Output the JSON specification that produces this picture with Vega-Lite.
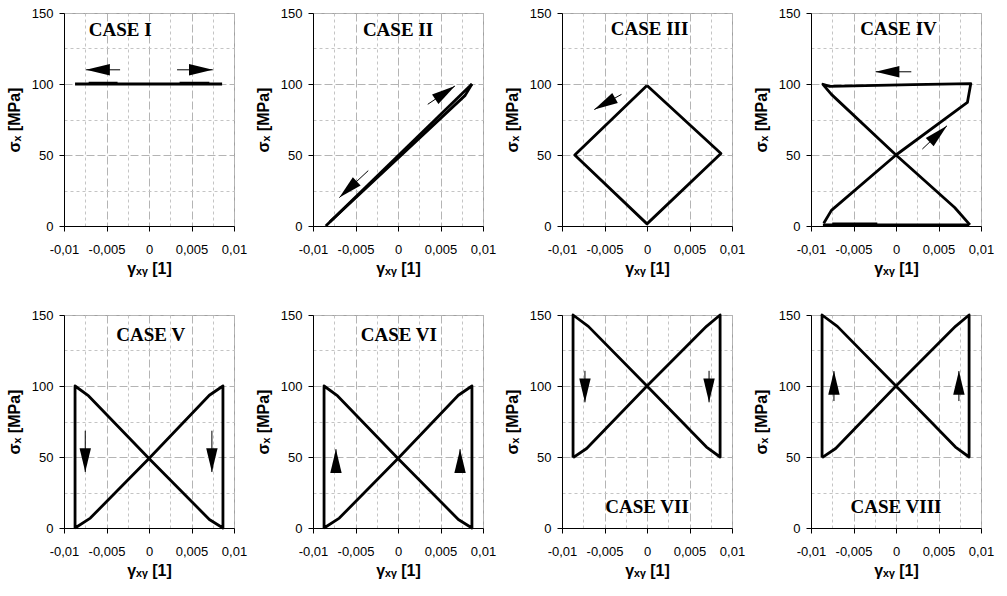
{
  "$schema": "https://vega.github.io/schema/vega-lite/v6.json",
  "background": "#ffffff",
  "padding": {"left": 5, "top": 6, "right": 5, "bottom": 5},
  "data": {"values": [
    {"case": "I", "kind": "p", "seg": "I1", "i": 0, "x": -0.0087, "y": 100},
    {"case": "I", "kind": "p", "seg": "I1", "i": 1, "x": 0.0086, "y": 100},
    {"case": "I", "kind": "p", "seg": "I2", "i": 0, "x": -0.0071, "y": 100.6},
    {"case": "I", "kind": "p", "seg": "I2", "i": 1, "x": -0.0037, "y": 100.6},
    {"case": "I", "kind": "p", "seg": "I3", "i": 0, "x": 0.0036, "y": 100.6},
    {"case": "I", "kind": "p", "seg": "I3", "i": 1, "x": 0.0071, "y": 100.6},

    {"case": "II", "kind": "p", "seg": "II1", "i": 0, "x": -0.0085, "y": 0},
    {"case": "II", "kind": "p", "seg": "II1", "i": 1, "x": 0.0087, "y": 100},
    {"case": "II", "kind": "p", "seg": "II2", "i": 0, "x": 0.0087, "y": 100},
    {"case": "II", "kind": "p", "seg": "II2", "i": 1, "x": 0.0079, "y": 92},
    {"case": "II", "kind": "p", "seg": "II2", "i": 2, "x": -0.0080, "y": 3},

    {"case": "III", "kind": "p", "seg": "III1", "i": 0, "x": 0, "y": 99},
    {"case": "III", "kind": "p", "seg": "III1", "i": 1, "x": -0.0085, "y": 50},
    {"case": "III", "kind": "p", "seg": "III1", "i": 2, "x": 0, "y": 1.5},
    {"case": "III", "kind": "p", "seg": "III1", "i": 3, "x": 0.0087, "y": 51},
    {"case": "III", "kind": "p", "seg": "III1", "i": 4, "x": 0, "y": 99},

    {"case": "IV", "kind": "p", "seg": "IV1", "i": 0, "x": -0.0086, "y": 0.8},
    {"case": "IV", "kind": "p", "seg": "IV1", "i": 1, "x": 0.0086, "y": 0.8},
    {"case": "IV", "kind": "p", "seg": "IV2", "i": 0, "x": -0.0075, "y": 1.5},
    {"case": "IV", "kind": "p", "seg": "IV2", "i": 1, "x": -0.0022, "y": 1.5},
    {"case": "IV", "kind": "p", "seg": "IV3", "i": 0, "x": -0.0085, "y": 2},
    {"case": "IV", "kind": "p", "seg": "IV3", "i": 1, "x": -0.0076, "y": 11},
    {"case": "IV", "kind": "p", "seg": "IV3", "i": 2, "x": 0, "y": 50},
    {"case": "IV", "kind": "p", "seg": "IV3", "i": 3, "x": 0.0084, "y": 87},
    {"case": "IV", "kind": "p", "seg": "IV3", "i": 4, "x": 0.0088, "y": 100.3},
    {"case": "IV", "kind": "p", "seg": "IV3", "i": 5, "x": 0.002, "y": 99.5},
    {"case": "IV", "kind": "p", "seg": "IV3", "i": 6, "x": -0.0078, "y": 98.3},
    {"case": "IV", "kind": "p", "seg": "IV3", "i": 7, "x": -0.0086, "y": 99.8},
    {"case": "IV", "kind": "p", "seg": "IV3", "i": 8, "x": -0.0076, "y": 92.7},
    {"case": "IV", "kind": "p", "seg": "IV3", "i": 9, "x": 0, "y": 50},
    {"case": "IV", "kind": "p", "seg": "IV3", "i": 10, "x": 0.0069, "y": 13},
    {"case": "IV", "kind": "p", "seg": "IV3", "i": 11, "x": 0.0087, "y": 0.8},

    {"case": "V", "kind": "p", "seg": "V1", "i": 0, "x": -0.0087, "y": 0},
    {"case": "V", "kind": "p", "seg": "V1", "i": 1, "x": -0.0087, "y": 100},
    {"case": "V", "kind": "p", "seg": "V1", "i": 2, "x": -0.0071, "y": 93},
    {"case": "V", "kind": "p", "seg": "V1", "i": 3, "x": 0, "y": 49},
    {"case": "V", "kind": "p", "seg": "V1", "i": 4, "x": 0.0071, "y": 6},
    {"case": "V", "kind": "p", "seg": "V1", "i": 5, "x": 0.0087, "y": 0},
    {"case": "V", "kind": "p", "seg": "V1", "i": 6, "x": 0.0087, "y": 100},
    {"case": "V", "kind": "p", "seg": "V1", "i": 7, "x": 0.0071, "y": 93.5},
    {"case": "V", "kind": "p", "seg": "V1", "i": 8, "x": 0, "y": 49},
    {"case": "V", "kind": "p", "seg": "V1", "i": 9, "x": -0.0069, "y": 7},
    {"case": "V", "kind": "p", "seg": "V1", "i": 10, "x": -0.0087, "y": 0},

    {"case": "VI", "kind": "p", "seg": "VI1", "i": 0, "x": -0.0087, "y": 0},
    {"case": "VI", "kind": "p", "seg": "VI1", "i": 1, "x": -0.0087, "y": 100},
    {"case": "VI", "kind": "p", "seg": "VI1", "i": 2, "x": -0.0071, "y": 93},
    {"case": "VI", "kind": "p", "seg": "VI1", "i": 3, "x": 0, "y": 49},
    {"case": "VI", "kind": "p", "seg": "VI1", "i": 4, "x": 0.0071, "y": 6},
    {"case": "VI", "kind": "p", "seg": "VI1", "i": 5, "x": 0.0087, "y": 0},
    {"case": "VI", "kind": "p", "seg": "VI1", "i": 6, "x": 0.0087, "y": 100},
    {"case": "VI", "kind": "p", "seg": "VI1", "i": 7, "x": 0.0071, "y": 93.5},
    {"case": "VI", "kind": "p", "seg": "VI1", "i": 8, "x": 0, "y": 49},
    {"case": "VI", "kind": "p", "seg": "VI1", "i": 9, "x": -0.0069, "y": 7},
    {"case": "VI", "kind": "p", "seg": "VI1", "i": 10, "x": -0.0087, "y": 0},

    {"case": "VII", "kind": "p", "seg": "VII1", "i": 0, "x": -0.0087, "y": 49.5},
    {"case": "VII", "kind": "p", "seg": "VII1", "i": 1, "x": -0.0087, "y": 150},
    {"case": "VII", "kind": "p", "seg": "VII1", "i": 2, "x": -0.0069, "y": 142},
    {"case": "VII", "kind": "p", "seg": "VII1", "i": 3, "x": 0, "y": 100},
    {"case": "VII", "kind": "p", "seg": "VII1", "i": 4, "x": 0.007, "y": 57},
    {"case": "VII", "kind": "p", "seg": "VII1", "i": 5, "x": 0.0086, "y": 50},
    {"case": "VII", "kind": "p", "seg": "VII1", "i": 6, "x": 0.0086, "y": 150},
    {"case": "VII", "kind": "p", "seg": "VII1", "i": 7, "x": 0.007, "y": 142},
    {"case": "VII", "kind": "p", "seg": "VII1", "i": 8, "x": 0, "y": 100},
    {"case": "VII", "kind": "p", "seg": "VII1", "i": 9, "x": -0.0071, "y": 56},
    {"case": "VII", "kind": "p", "seg": "VII1", "i": 10, "x": -0.0087, "y": 49.5},

    {"case": "VIII", "kind": "p", "seg": "VIII1", "i": 0, "x": -0.0087, "y": 49.5},
    {"case": "VIII", "kind": "p", "seg": "VIII1", "i": 1, "x": -0.0087, "y": 150},
    {"case": "VIII", "kind": "p", "seg": "VIII1", "i": 2, "x": -0.0069, "y": 142},
    {"case": "VIII", "kind": "p", "seg": "VIII1", "i": 3, "x": 0, "y": 100},
    {"case": "VIII", "kind": "p", "seg": "VIII1", "i": 4, "x": 0.007, "y": 57},
    {"case": "VIII", "kind": "p", "seg": "VIII1", "i": 5, "x": 0.0086, "y": 50},
    {"case": "VIII", "kind": "p", "seg": "VIII1", "i": 6, "x": 0.0086, "y": 150},
    {"case": "VIII", "kind": "p", "seg": "VIII1", "i": 7, "x": 0.007, "y": 142},
    {"case": "VIII", "kind": "p", "seg": "VIII1", "i": 8, "x": 0, "y": 100},
    {"case": "VIII", "kind": "p", "seg": "VIII1", "i": 9, "x": -0.0071, "y": 56},
    {"case": "VIII", "kind": "p", "seg": "VIII1", "i": 10, "x": -0.0087, "y": 49.5},

    {"case": "I", "kind": "a", "x": -0.0074, "y": 110, "x2": -0.0034, "y2": 110},
    {"case": "I", "kind": "a", "x": 0.0075, "y": 110, "x2": 0.0033, "y2": 110},
    {"case": "II", "kind": "a", "x": 0.0067, "y": 98.6, "x2": 0.0035, "y2": 85.7},
    {"case": "II", "kind": "a", "x": -0.0069, "y": 20, "x2": -0.0035, "y2": 39},
    {"case": "III", "kind": "a", "x": -0.0062, "y": 82, "x2": -0.0030, "y2": 92.7},
    {"case": "IV", "kind": "a", "x": -0.0024, "y": 108.6, "x2": 0.0018, "y2": 108.6},
    {"case": "IV", "kind": "a", "x": 0.0060, "y": 70.6, "x2": 0.0031, "y2": 54.2},
    {"case": "V", "kind": "a", "x": -0.0075, "y": 39.4, "x2": -0.0075, "y2": 68.5},
    {"case": "V", "kind": "a", "x": 0.0074, "y": 39.4, "x2": 0.0074, "y2": 68.5},
    {"case": "VI", "kind": "a", "x": -0.0073, "y": 55.5, "x2": -0.0073, "y2": 39.4},
    {"case": "VI", "kind": "a", "x": 0.0073, "y": 55.5, "x2": 0.0073, "y2": 39.4},
    {"case": "VII", "kind": "a", "x": -0.0073, "y": 88.5, "x2": -0.0073, "y2": 110.7},
    {"case": "VII", "kind": "a", "x": 0.0073, "y": 88.5, "x2": 0.0073, "y2": 110.7},
    {"case": "VIII", "kind": "a", "x": -0.0073, "y": 110.5, "x2": -0.0073, "y2": 89.4},
    {"case": "VIII", "kind": "a", "x": 0.0074, "y": 110.5, "x2": 0.0074, "y2": 89.4},

    {"case": "I", "kind": "t", "x": -0.0034, "y": 138, "label": "CASE I"},
    {"case": "II", "kind": "t", "x": 0, "y": 138, "label": "CASE II"},
    {"case": "III", "kind": "t", "x": 0.0003, "y": 138.5, "label": "CASE III"},
    {"case": "IV", "kind": "t", "x": 0.0003, "y": 139, "label": "CASE IV"},
    {"case": "V", "kind": "t", "x": 0.0002, "y": 136, "label": "CASE V"},
    {"case": "VI", "kind": "t", "x": 0.0001, "y": 136, "label": "CASE VI"},
    {"case": "VII", "kind": "t", "x": 0, "y": 15, "label": "CASE VII"},
    {"case": "VIII", "kind": "t", "x": 0, "y": 14.5, "label": "CASE VIII"}
  ]},
  "facet": {
    "field": "case", "type": "ordinal",
    "sort": ["I", "II", "III", "IV", "V", "VI", "VII", "VIII"],
    "header": {"title": null, "labels": false, "labelExpr": "''", "labelFontSize": 0, "labelPadding": 0},
    "title": null
  },
  "columns": 4,
  "spacing": {"row": 89, "column": 79},
  "bounds": "flush",
  "resolve": {"axis": {"x": "independent", "y": "independent"}},
  "spec": {
    "width": 170,
    "height": 213,
    "encoding": {
      "x": {
        "field": "x", "type": "quantitative",
        "scale": {"domain": [-0.01, 0.01], "nice": false, "zero": false},
        "axis": {
          "title": "γₓᵧ [1]",
          "values": [-0.01, -0.0075, -0.005, -0.0025, 0, 0.0025, 0.005, 0.0075, 0.01],
          "labelExpr": "abs(round(datum.value*400)) % 2 == 0 ? ((datum.value < 0 ? '-' : '') + replace('' + abs(datum.value), '.', ',')) : ''",
          "labelOverlap": false,
          "labelFlush": false,
          "labelBound": false,
          "tickSize": 5,
          "labelPadding": 12,
          "titlePadding": 4,
          "tickOpacity": {"condition": {"test": "abs(round(datum.value*400)) % 2 == 0", "value": 1}, "value": 0},
          "gridDash": {"condition": {"test": "abs(round(datum.value*400)) % 2 == 0", "value": [8, 3]}, "value": [3, 3]},
          "gridColor": {"condition": {"test": "abs(round(datum.value*400)) % 2 == 0", "value": "#b4b4b4"}, "value": "#c4c4c4"}
        }
      },
      "y": {
        "field": "y", "type": "quantitative",
        "scale": {"domain": [0, 150], "nice": false},
        "axis": {
          "title": "σₓ [MPa]",
          "values": [0, 25, 50, 75, 100, 125, 150],
          "labelExpr": "datum.value % 50 == 0 ? datum.label : ''",
          "labelOverlap": false,
          "labelFlush": false,
          "labelBound": false,
          "tickSize": 5,
          "labelPadding": 6,
          "titlePadding": 9,
          "tickOpacity": {"condition": {"test": "datum.value % 50 == 0", "value": 1}, "value": 0},
          "gridDash": {"condition": {"test": "datum.value % 50 == 0", "value": [8, 3]}, "value": [3, 3]},
          "gridColor": {"condition": {"test": "datum.value % 50 == 0", "value": "#b4b4b4"}, "value": "#c4c4c4"}
        }
      }
    },
    "layer": [
      {
        "transform": [{"filter": "datum.kind == 'p'"}],
        "mark": {"type": "line", "color": "#000000", "strokeWidth": 2.8, "strokeJoin": "round", "strokeCap": "butt"},
        "encoding": {
          "detail": {"field": "seg", "type": "nominal"},
          "order": {"field": "i", "type": "quantitative"}
        }
      },
      {
        "transform": [{"filter": "datum.kind == 'a'"}],
        "mark": {"type": "rule", "color": "#000000", "strokeWidth": 1},
        "encoding": {
          "x2": {"field": "x2"},
          "y2": {"field": "y2"}
        }
      },
      {
        "transform": [
          {"filter": "datum.kind == 'a'"},
          {"calculate": "atan2((datum.x - datum.x2) * 8500, (datum.y - datum.y2) * 1.42) * 180 / PI", "as": "heading"}
        ],
        "mark": {"type": "point", "shape": "M0,0L0.24,1L-0.24,1Z", "size": 2260, "filled": true, "color": "#000000", "opacity": 1, "strokeWidth": 0},
        "encoding": {
          "angle": {"field": "heading", "type": "quantitative", "scale": null}
        }
      },
      {
        "transform": [{"filter": "datum.kind == 't'"}],
        "mark": {"type": "text", "font": "Liberation Serif", "fontWeight": "bold", "fontSize": 19, "color": "#000000", "baseline": "middle", "align": "center"},
        "encoding": {
          "text": {"field": "label", "type": "nominal"}
        }
      }
    ]
  },
  "config": {
    "header": {"labels": false, "title": null, "labelFontSize": 0, "labelPadding": 0},
    "view": {"stroke": "#a0a0a0", "strokeWidth": 1},
    "axis": {
      "domainColor": "#000000",
      "domainWidth": 1,
      "tickColor": "#000000",
      "labelFont": "Liberation Sans",
      "labelFontSize": 13,
      "labelColor": "#000000",
      "titleFont": "Liberation Sans",
      "titleFontSize": 16,
      "titleFontWeight": "bold",
      "titleColor": "#000000",
      "grid": true
    }
  }
}
